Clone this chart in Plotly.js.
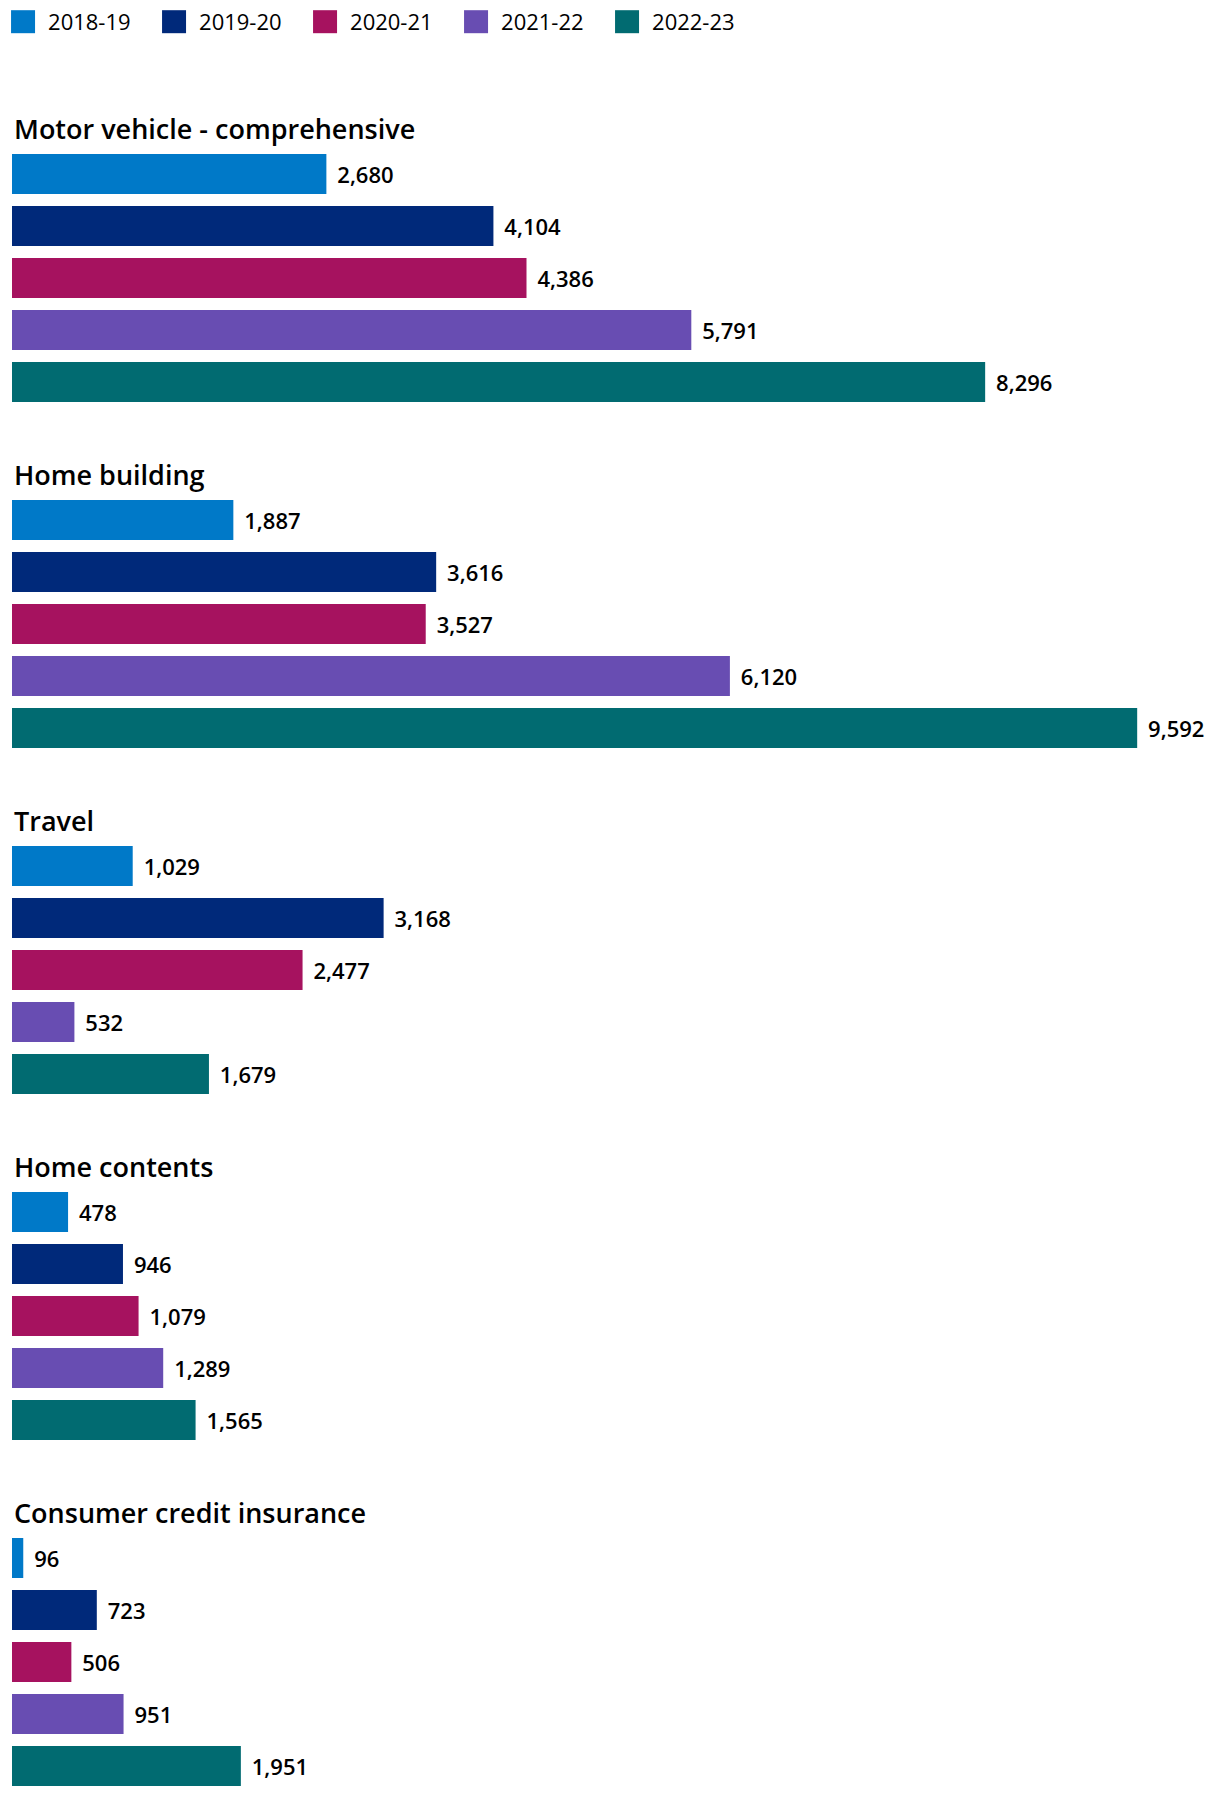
<!DOCTYPE html>
<html>
<head>
<meta charset="utf-8">
<script src="https://cdn.plot.ly/plotly-3.0.1.min.js"></script>
<style>
  html, body { margin: 0; padding: 0; background: #fff; }
  #chart { width: 1220px; height: 1798px; }
</style>
</head>
<body>
<div id="chart"></div>
<script>
const categories = [
  "Motor vehicle - comprehensive",
  "Home building",
  "Travel",
  "Home contents",
  "Consumer credit insurance"
];
const years = ["2018-19", "2019-20", "2020-21", "2021-22", "2022-23"];
const colors = ["#0079C8", "#00297A", "#A6125F", "#684DB2", "#016B71"];

const motorVehicle = [2680, 4104, 4386, 5791, 8296];
const homeBuilding = [1887, 3616, 3527, 6120, 9592];
const travel = [1029, 3168, 2477, 532, 1679];
const homeContents = [478, 946, 1079, 1289, 1565];
const consumerCredit = [96, 723, 506, 951, 1951];

const seriesByCategory = [motorVehicle, homeBuilding, travel, homeContents, consumerCredit];

const H = 1798;
const FONT = "'Open Sans', Roboto, sans-serif";
const traces = [];
const layout = {
  width: 1220,
  height: H,
  margin: { l: 12, r: 0, t: 0, b: 0, autoexpand: false },
  paper_bgcolor: "#ffffff",
  plot_bgcolor: "#ffffff",
  barmode: "overlay",
  bargap: 0.2308,
  font: { family: FONT, color: "#000000", size: 22 },
  showlegend: true,
  legend: {
    orientation: "h",
    xref: "container", yref: "container",
    x: 0.0025, y: 0.9995, xanchor: "left", yanchor: "top",
    entrywidth: 106, entrywidthmode: "pixels",
    font: { family: FONT, size: 22, color: "#000000" },
    traceorder: "normal",
    bgcolor: "rgba(0,0,0,0)",
    itemclick: false, itemdoubleclick: false
  },
  annotations: []
};

seriesByCategory.forEach((vals, g) => {
  const sx = g === 0 ? "" : String(g + 1);
  const top = 148 + 346 * g;
  layout["xaxis" + sx] = {
    range: [0, 10298], visible: false, fixedrange: true,
    anchor: "y" + sx, showgrid: false, zeroline: false
  };
  layout["yaxis" + sx] = {
    type: "category", categoryorder: "array", categoryarray: years,
    range: [4.5, -0.5], visible: false, fixedrange: true,
    anchor: "x" + sx,
    domain: [1 - (top + 260) / H, 1 - top / H]
  };
  layout.annotations.push({
    text: categories[g],
    xref: "paper", yref: "paper",
    x: 0, y: 1 - (128 + 346 * g) / H,
    xanchor: "left", yanchor: "middle",
    showarrow: false,
    font: { family: FONT, size: 27, color: "#000000", weight: 600 }
  });
  vals.forEach((v, j) => {
    traces.push({
      type: "bar",
      orientation: "h",
      x: [v],
      y: [years[j]],
      name: years[j],
      legendgroup: years[j],
      showlegend: g === 0,
      xaxis: "x" + sx,
      yaxis: "y" + sx,
      marker: { color: colors[j], line: { width: 0 } },
      texttemplate: "\u00a0\u200a%{x:,}",
      textposition: "outside",
      constraintext: "none",
      cliponaxis: false,
      textfont: { family: FONT, size: 22, color: "#000000", weight: 600 },
      hoverinfo: "skip"
    });
  });
});

Plotly.newPlot("chart", traces, layout, { displayModeBar: false, staticPlot: true }).then(gd => {
  gd.querySelectorAll(".legend .legendpoints path").forEach(p => {
    p.setAttribute("d", "M12,11.5H-12V-11.5H12Z");
  });
  gd.querySelectorAll(".legend .legendtext").forEach(t => {
    const x = parseFloat(t.getAttribute("x") || "0");
    t.setAttribute("x", String(x + 5));
  });
});
</script>
</body>
</html>
